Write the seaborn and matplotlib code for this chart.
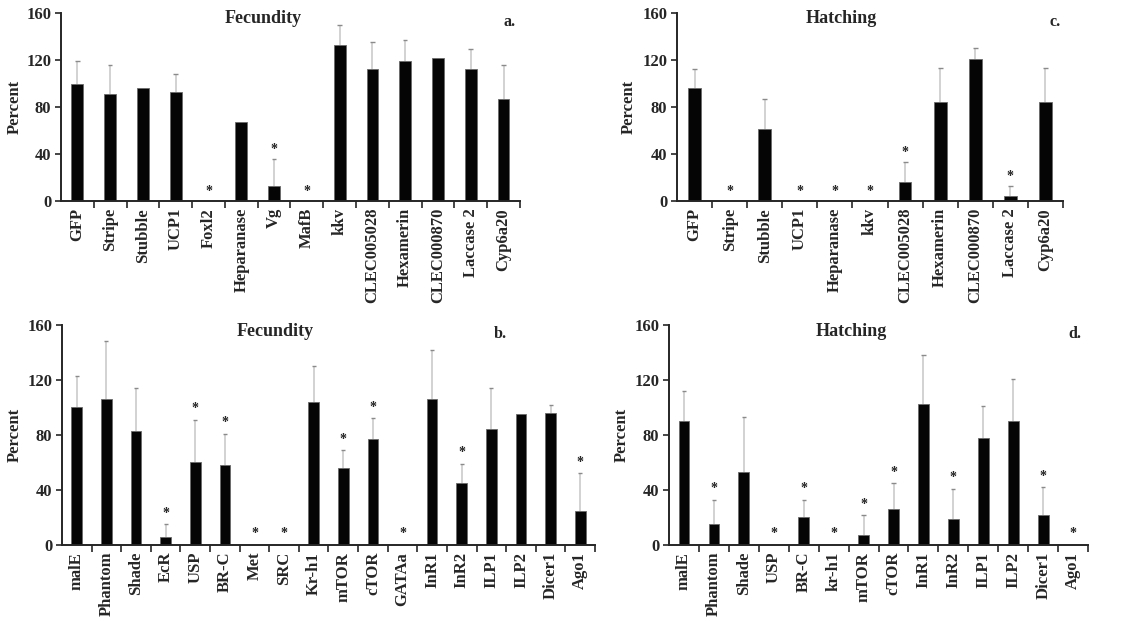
import numpy as np
import pandas as pd
import matplotlib
matplotlib.use("Agg")
import matplotlib.pyplot as plt
from matplotlib.ticker import FixedLocator
import seaborn as sns

# ---- data -------------------------------------------------------------
genes_a = ["GFP", "Stripe", "Stubble", "UCP1", "Foxl2", "Heparanase", "Vg", "MafB",
           "kkv", "CLEC005028", "Hexamerin", "CLEC000870", "Laccase 2", "Cyp6a20"]
fec_a = [100, 91, 96, 93, 0, 67, 13, 0, 133, 112, 119, 122, 112, 87]
fec_a_sd = [19, 25, 0, 15, 0, 0, 23, 0, 17, 23, 18, 0, 17, 29]
fec_a_sig = [0, 0, 0, 0, 1, 0, 1, 1, 0, 0, 0, 0, 0, 0]

genes_c = ["GFP", "Stripe", "Stubble", "UCP1", "Heparanase", "kkv", "CLEC005028",
           "Hexamerin", "CLEC000870", "Laccase 2", "Cyp6a20"]
hat_c = [96, 0, 61, 0, 0, 0, 16, 84, 121, 4, 84]
hat_c_sd = [16, 0, 26, 0, 0, 0, 17, 29, 9, 9, 29]
hat_c_sig = [0, 1, 0, 1, 1, 1, 1, 0, 0, 1, 0]

genes_b = ["malE", "Phantom", "Shade", "EcR", "USP", "BR-C", "Met", "SRC", "Kr-h1",
           "mTOR", "cTOR", "GATAa", "InR1", "InR2", "ILP1", "ILP2", "Dicer1", "Ago1"]
fec_b = [100, 106, 83, 6, 60, 58, 0, 0, 104, 56, 77, 0, 106, 45, 84, 95, 96, 25]
fec_b_sd = [23, 42, 31, 9, 31, 23, 0, 0, 26, 13, 15, 0, 36, 14, 30, 0, 6, 27]
fec_b_sig = [0, 0, 0, 1, 1, 1, 1, 1, 0, 1, 1, 1, 0, 1, 0, 0, 0, 1]

genes_d = ["malE", "Phantom", "Shade", "USP", "BR-C", "kr-h1", "mTOR", "cTOR",
           "InR1", "InR2", "ILP1", "ILP2", "Dicer1", "Ago1"]
hat_d = [90, 15, 53, 0, 20, 0, 7.5, 26, 102.5, 19, 78, 90, 22, 0]
hat_d_sd = [22, 18, 40, 0, 13, 0, 14, 19, 36, 22, 23, 31, 20, 0]
hat_d_sig = [0, 1, 0, 1, 1, 1, 1, 1, 0, 1, 0, 0, 1, 1]

y_ticks = [0, 40, 80, 120, 160]

# ---- style ------------------------------------------------------------
sns.set_style("ticks")
plt.rcParams["font.family"] = ["Liberation Serif", "DejaVu Serif"]
plt.rcParams["font.weight"] = "bold"
plt.rcParams["axes.linewidth"] = 1.4

fig = plt.figure(figsize=(11.44, 6.21), dpi=100)

panels = [
    # genes, values, sd, sig, title, letter, rect, title_x, letter_x, ylabel_x
    (genes_a, fec_a, fec_a_sd, fec_a_sig, "Fecundity", "a.",
     [0.0533, 0.6763, 0.4012, 0.3027], 0.44, 0.99, -0.083),
    (genes_c, hat_c, hat_c_sd, hat_c_sig, "Hatching", "c.",
     [0.5918, 0.6763, 0.3374, 0.3027], 0.425, 0.995, -0.104),
    (genes_b, fec_b, fec_b_sd, fec_b_sig, "Fecundity", "b.",
     [0.0542, 0.1224, 0.4659, 0.3543], 0.40, 0.835, -0.073),
    (genes_d, hat_d, hat_d_sd, hat_d_sig, "Hatching", "d.",
     [0.5848, 0.1224, 0.3663, 0.3543], 0.434, 0.985, -0.093),
]

for genes, vals, sd, sig, title, letter, rect, tx, lx, ylx in panels:
    ax = fig.add_axes(rect)
    df = pd.DataFrame({"gene": genes, "pct": vals})
    sns.barplot(data=df, x="gene", y="pct", color="#050505", saturation=1,
                width=0.36, errorbar=None, edgecolor="#6a6a6a", linewidth=0.6, ax=ax)
    centers = np.array([p.get_x() + p.get_width() / 2 for p in ax.patches])
    vals_arr = np.asarray(vals, dtype=float)
    sd_arr = np.asarray(sd, dtype=float)
    has = sd_arr > 0
    # one-sided (upper) error bars
    ax.vlines(centers[has], vals_arr[has], vals_arr[has] + sd_arr[has],
              color="#cfcfcf", lw=1.3, zorder=1)
    ax.hlines(vals_arr[has] + sd_arr[has], centers[has] - 0.07, centers[has] + 0.07,
              color="#8a8a8a", lw=1.0, zorder=1)
    # significance marks
    for c, v, s, flag in zip(centers, vals_arr, sd_arr, sig):
        if flag:
            ax.text(c, v + s + 8, "*", ha="center", va="center",
                    fontsize=10, color="#222222")

    ax.set_ylim(0, 160)
    ax.set_xlim(-0.5, len(genes) - 0.5)
    ax.yaxis.set_major_locator(FixedLocator(y_ticks))
    ax.set_yticklabels([str(t) for t in y_ticks], fontsize=12, fontweight="bold")
    ax.set_xlabel("")
    ax.set_ylabel("Percent", fontsize=12, fontweight="bold")
    ax.yaxis.set_label_coords(ylx, 0.5)
    ax.set_xticks(np.arange(len(genes)))
    ax.set_xticklabels(genes, rotation=90, fontsize=12, fontweight="bold")
    ax.xaxis.set_minor_locator(FixedLocator(np.arange(len(genes)) + 0.5))
    ax.tick_params(axis="x", which="major", length=0, pad=5)
    ax.tick_params(axis="x", which="minor", length=5, width=1.2, direction="out")
    ax.tick_params(axis="y", length=4, width=1.2, direction="out", pad=3)
    sns.despine(ax=ax)
    ax.text(tx, 0.97, title, transform=ax.transAxes, ha="center", va="center",
            fontsize=13, fontweight="bold")
    ax.text(lx, 0.995, letter, transform=ax.transAxes, ha="right", va="top",
            fontsize=11.5, fontweight="bold")

fig.savefig("out.png", dpi=100)
